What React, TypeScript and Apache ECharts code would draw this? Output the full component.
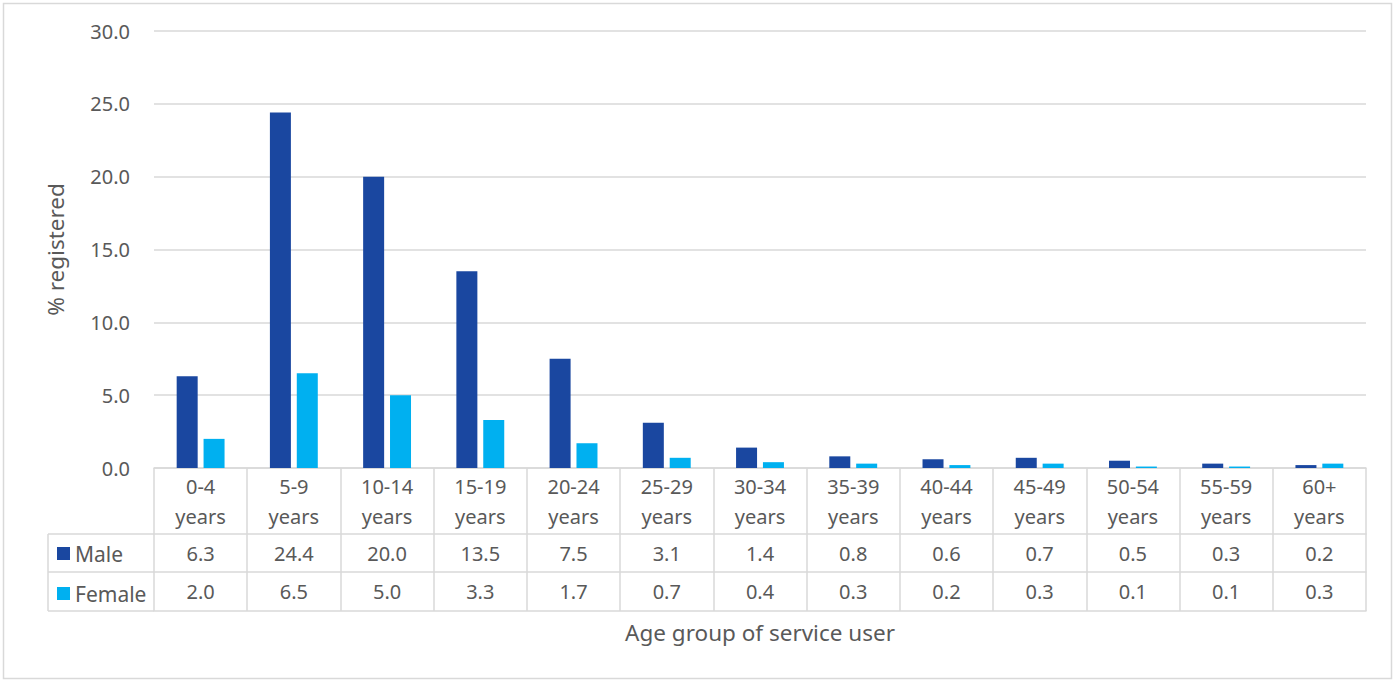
import React, { useEffect, useRef } from "react";
import * as echarts from "echarts";

const categories = ["0-4 years", "5-9 years", "10-14 years", "15-19 years", "20-24 years", "25-29 years", "30-34 years", "35-39 years", "40-44 years", "45-49 years", "50-54 years", "55-59 years", "60+ years"];
const maleValues = [6.3, 24.4, 20.0, 13.5, 7.5, 3.1, 1.4, 0.8, 0.6, 0.7, 0.5, 0.3, 0.2];
const femaleValues = [2.0, 6.5, 5.0, 3.3, 1.7, 0.7, 0.4, 0.3, 0.2, 0.3, 0.1, 0.1, 0.3];
const seriesNames = ["Male", "Female"];
const yTicks = { min: 0, max: 30, interval: 5 };

const FONT = "Noto Sans";
const FS = 20;
const FS_NAME = 22.5;
const FS_LEG = 21;
const TXT = "#595959";
const LINE = "#d9d9d9";
const MALE_C = "#1a47a0";
const FEMALE_C = "#00b0f0";

export default function App() {
  const ref = useRef<HTMLDivElement>(null);
  useEffect(() => {
    if (!ref.current) return;
    const chart = echarts.init(ref.current, undefined, { renderer: "svg" });
    const left = 154, right = 29, top = 31, bottom = 214;
    const baseAxis = {
      type: "category",
      data: categories,
      gridIndex: 0,
      position: "bottom",
      boundaryGap: true,
      axisTick: { show: false },
      splitLine: { show: false },
    };
    chart.setOption({
      animation: false,
      backgroundColor: "#ffffff",
      textStyle: { fontFamily: FONT },
      grid: { left, right, top, bottom, containLabel: false },
      legend: {
        orient: "vertical",
        left: 57,
        top: 543,
        padding: 0,
        itemWidth: 13,
        itemHeight: 13,
        itemGap: 19,
        icon: "rect",
        selectedMode: false,
        data: seriesNames,
        textStyle: { color: TXT, fontSize: FS_LEG, fontFamily: FONT, lineHeight: 20 },
      },
      xAxis: [
        {
          ...baseAxis,
          axisLine: { show: true, lineStyle: { color: LINE, width: 1.5 } },
          axisTick: { show: true, length: 143, lineStyle: { color: LINE, width: 1.5 } },
          axisLabel: {
            color: TXT,
            fontSize: FS,
            fontFamily: FONT,
            lineHeight: 30,
            margin: 3,
            interval: 0,
            formatter: (v: string) => v.replace(" ", "\n"),
          },
        },
        {
          ...baseAxis,
          offset: 66,
          axisLine: { show: true, lineStyle: { color: LINE, width: 1.5 } },
          axisLabel: {
            color: TXT, fontSize: FS, fontFamily: FONT, lineHeight: 20, margin: 9, interval: 0,
            formatter: (_v: string, i: number) => maleValues[i].toFixed(1),
          },
        },
        {
          ...baseAxis,
          offset: 104,
          axisLine: { show: true, lineStyle: { color: LINE, width: 1.5 } },
          axisLabel: {
            color: TXT, fontSize: FS, fontFamily: FONT, lineHeight: 20, margin: 9, interval: 0,
            formatter: (_v: string, i: number) => femaleValues[i].toFixed(1),
          },
        },
        {
          ...baseAxis,
          offset: 143,
          axisLine: { show: true, lineStyle: { color: LINE, width: 1.5 } },
          axisLabel: { show: false },
          name: "Age group of service user",
          nameLocation: "middle",
          nameGap: 10,
          nameTextStyle: { color: TXT, fontSize: FS_NAME, fontFamily: FONT },
        },
      ],
      yAxis: {
        type: "value",
        min: yTicks.min,
        max: yTicks.max,
        interval: yTicks.interval,
        axisLine: { show: false },
        axisTick: { show: false },
        splitLine: { lineStyle: { color: LINE, width: 1.5 } },
        axisLabel: {
          color: TXT, fontSize: FS, fontFamily: FONT, margin: 24,
          formatter: (v: number) => v.toFixed(1),
        },
        name: "% registered",
        nameLocation: "middle",
        nameGap: 87,
        nameTextStyle: { color: TXT, fontSize: FS_NAME, fontFamily: FONT },
      },
      series: [
        {
          name: seriesNames[0],
          type: "bar",
          xAxisIndex: 0,
          data: maleValues,
          barWidth: 21,
          barGap: "28%",
          itemStyle: { color: MALE_C },
        },
        {
          name: seriesNames[1],
          type: "bar",
          xAxisIndex: 0,
          data: femaleValues,
          barWidth: 21,
          barGap: "28%",
          itemStyle: { color: FEMALE_C },
        },
      ],
      graphic: [
        { type: "rect", shape: { x: 3.5, y: 3.5, width: 1388, height: 675 }, style: { fill: "none", stroke: LINE, lineWidth: 1.5 }, silent: true },
        { type: "line", shape: { x1: 48, y1: 534, x2: 154, y2: 534 }, style: { stroke: LINE, lineWidth: 1.5 } },
        { type: "line", shape: { x1: 48, y1: 572, x2: 154, y2: 572 }, style: { stroke: LINE, lineWidth: 1.5 } },
        { type: "line", shape: { x1: 48, y1: 611, x2: 154, y2: 611 }, style: { stroke: LINE, lineWidth: 1.5 } },
        { type: "line", shape: { x1: 48, y1: 534, x2: 48, y2: 611 }, style: { stroke: LINE, lineWidth: 1.5 } },
      ],
    });
    return () => chart.dispose();
  }, []);
  return <div ref={ref} style={{ width: 1395, height: 682, position: "absolute", left: 0, top: 0 }} />;
}
